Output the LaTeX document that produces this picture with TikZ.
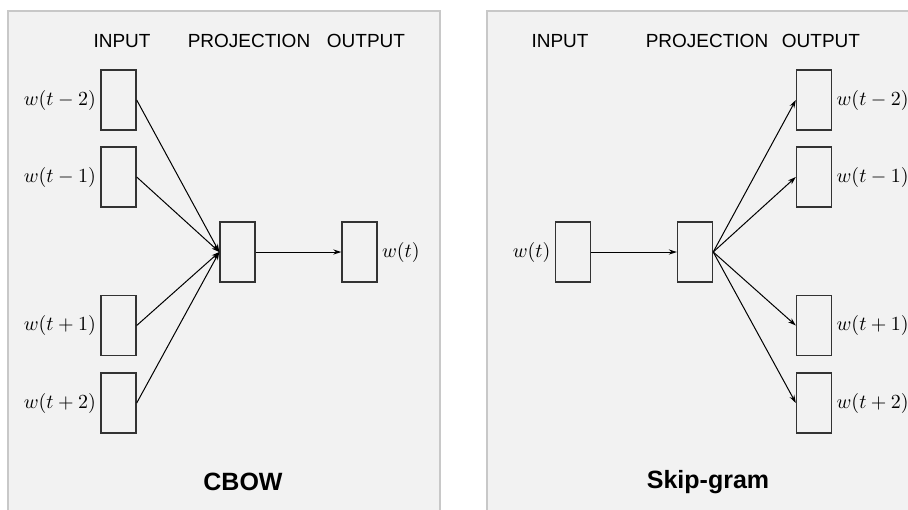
\documentclass[tikz,border=0pt]{standalone}
\usepackage{fontspec}
\setsansfont{Liberation Sans}
\usetikzlibrary{arrows.meta}
\definecolor{panelfill}{HTML}{F2F2F2}
\definecolor{panelline}{HTML}{C8C8C8}
\definecolor{boxline}{HTML}{333333}
\begin{document}
\begin{tikzpicture}[x=0.5pt,y=-0.5pt,
    panel/.style={draw=panelline, fill=panelfill, line width=0.8pt},
    vec/.style={draw=boxline, line width=0.7pt, minimum width=17.5pt, minimum height=30pt, inner sep=0pt},
    head/.style={font=\sffamily\fontsize{9.5}{12}\selectfont, inner sep=0pt},
    title/.style={font=\sffamily\bfseries\fontsize{12.5}{14}\selectfont, inner sep=0pt},
    lbl/.style={font=\fontsize{10}{12}\selectfont, inner sep=2pt},
    arr/.style={-{Stealth[length=4pt,width=2.6pt]}, line width=0.5pt}]
  \useasboundingbox (0,0) rectangle (908,509);
  \clip (0,0) rectangle (908,509);
  \fill[white] (0,0) rectangle (908,509);
  % CBOW
  \draw[panel] (8,11) rectangle (440,530);
  \node[head] (cin) at (122,41) {INPUT};
  \node[head] (cproj) at (249,41) {PROJECTION};
  \node[head] (cout) at (366,41) {OUTPUT};
  \node[vec] (cm2) at (118.5,100) {};
  \node[vec] (cm1) at (118.5,177) {};
  \node[vec] (cp1) at (118.5,325.5) {};
  \node[vec] (cp2) at (118.5,403) {};
  \node[vec] (cpr) at (237.5,252) {};
  \node[vec] (cw) at (359.5,252) {};
  \node[lbl,anchor=east] (lcm2) at (cm2.west) {$w(t-2)$};
  \node[lbl,anchor=east] (lcm1) at (cm1.west) {$w(t-1)$};
  \node[lbl,anchor=east] (lcp1) at (cp1.west) {$w(t+1)$};
  \node[lbl,anchor=east] (lcp2) at (cp2.west) {$w(t+2)$};
  \node[lbl,anchor=west] (lcw) at (cw.east) {$w(t)$};
  \foreach \n in {cm2,cm1,cp1,cp2}
    \draw[arr] (\n.east) -- (cpr.west);
  \draw[arr] (cpr.east) -- (cw.west);
  \node[title] (cbow) at (243,482) {CBOW};
  % Skip-gram
  \draw[panel] (487,11) rectangle (930,530);
  \node[head] (sin) at (560,41) {INPUT};
  \node[head] (sproj) at (707,41) {PROJECTION};
  \node[head] (sout) at (821,41) {OUTPUT};
  \node[vec] (sw) at (573,252) {};
  \node[vec] (spr) at (695,252) {};
  \node[vec] (sm2) at (814,100) {};
  \node[vec] (sm1) at (814,177) {};
  \node[vec] (sp1) at (814,325.5) {};
  \node[vec] (sp2) at (814,403) {};
  \node[lbl,anchor=east] (lsw) at (sw.west) {$w(t)$};
  \node[lbl,anchor=west] (lsm2) at (sm2.east) {$w(t-2)$};
  \node[lbl,anchor=west] (lsm1) at (sm1.east) {$w(t-1)$};
  \node[lbl,anchor=west] (lsp1) at (sp1.east) {$w(t+1)$};
  \node[lbl,anchor=west] (lsp2) at (sp2.east) {$w(t+2)$};
  \draw[arr] (sw.east) -- (spr.west);
  \foreach \n in {sm2,sm1,sp1,sp2}
    \draw[arr] (spr.east) -- (\n.west);
  \node[title] (skip) at (708,482) {Skip-gram};
\end{tikzpicture}
\end{document}
